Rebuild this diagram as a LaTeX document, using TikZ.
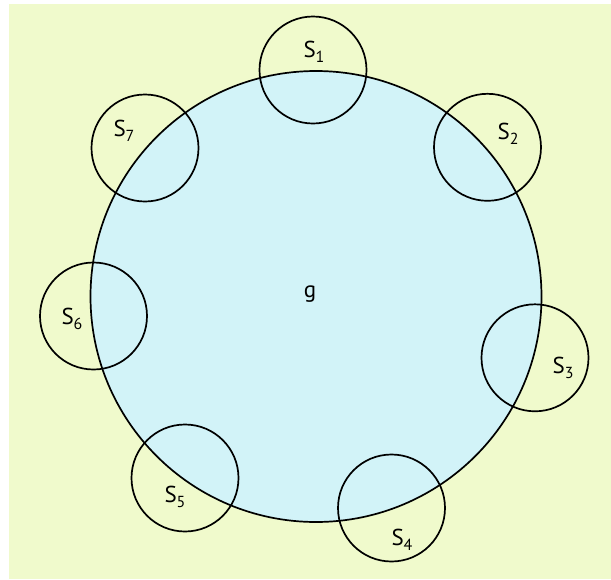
\documentclass[tikz,border=0pt]{standalone}
\usepackage{fontspec}
\setmainfont{PT Sans}
\definecolor{bgyellow}{RGB}{240,250,204}
\definecolor{fillblue}{RGB}{210,243,248}
\newcommand{\sublab}[1]{S\raisebox{-0.45ex}{\fontsize{16}{17}\selectfont #1}}
\begin{document}
\begin{tikzpicture}[x=1pt,y=-1pt,
  big/.style={circle,draw=black,line width=1.7pt,fill=fillblue,minimum size=451pt,inner sep=0pt},
  small/.style={circle,draw=black,line width=1.7pt,minimum size=107pt,inner sep=0pt},
  lab/.style={font=\fontsize{23}{25}\selectfont,inner sep=0pt}]
\useasboundingbox (0,0) rectangle (611,579);
\fill[white] (0,0) rectangle (611,579);
\fill[bgyellow] (9,4) rectangle (611,579);
\node[big] (g) at (316,296.5) {};
\node[small] (s1) at (313,70) {};
\node[small] (s2) at (487.5,147.3) {};
\node[small] (s3) at (535,357.8) {};
\node[small] (s4) at (391.5,508) {};
\node[small] (s5) at (185,478) {};
\node[small] (s6) at (93.5,316) {};
\node[small] (s7) at (145,148) {};
\node[lab] (lg) at (310,294) {g};
\node[lab] (l1) at (314,52) {\sublab{1}};
\node[lab] (l2) at (508,134) {\sublab{2}};
\node[lab] (l3) at (563,368) {\sublab{3}};
\node[lab] (l4) at (402,540) {\sublab{4}};
\node[lab] (l5) at (175,497) {\sublab{5}};
\node[lab] (l6) at (72,319) {\sublab{6}};
\node[lab] (l7) at (124,131) {\sublab{7}};
\end{tikzpicture}
\end{document}
